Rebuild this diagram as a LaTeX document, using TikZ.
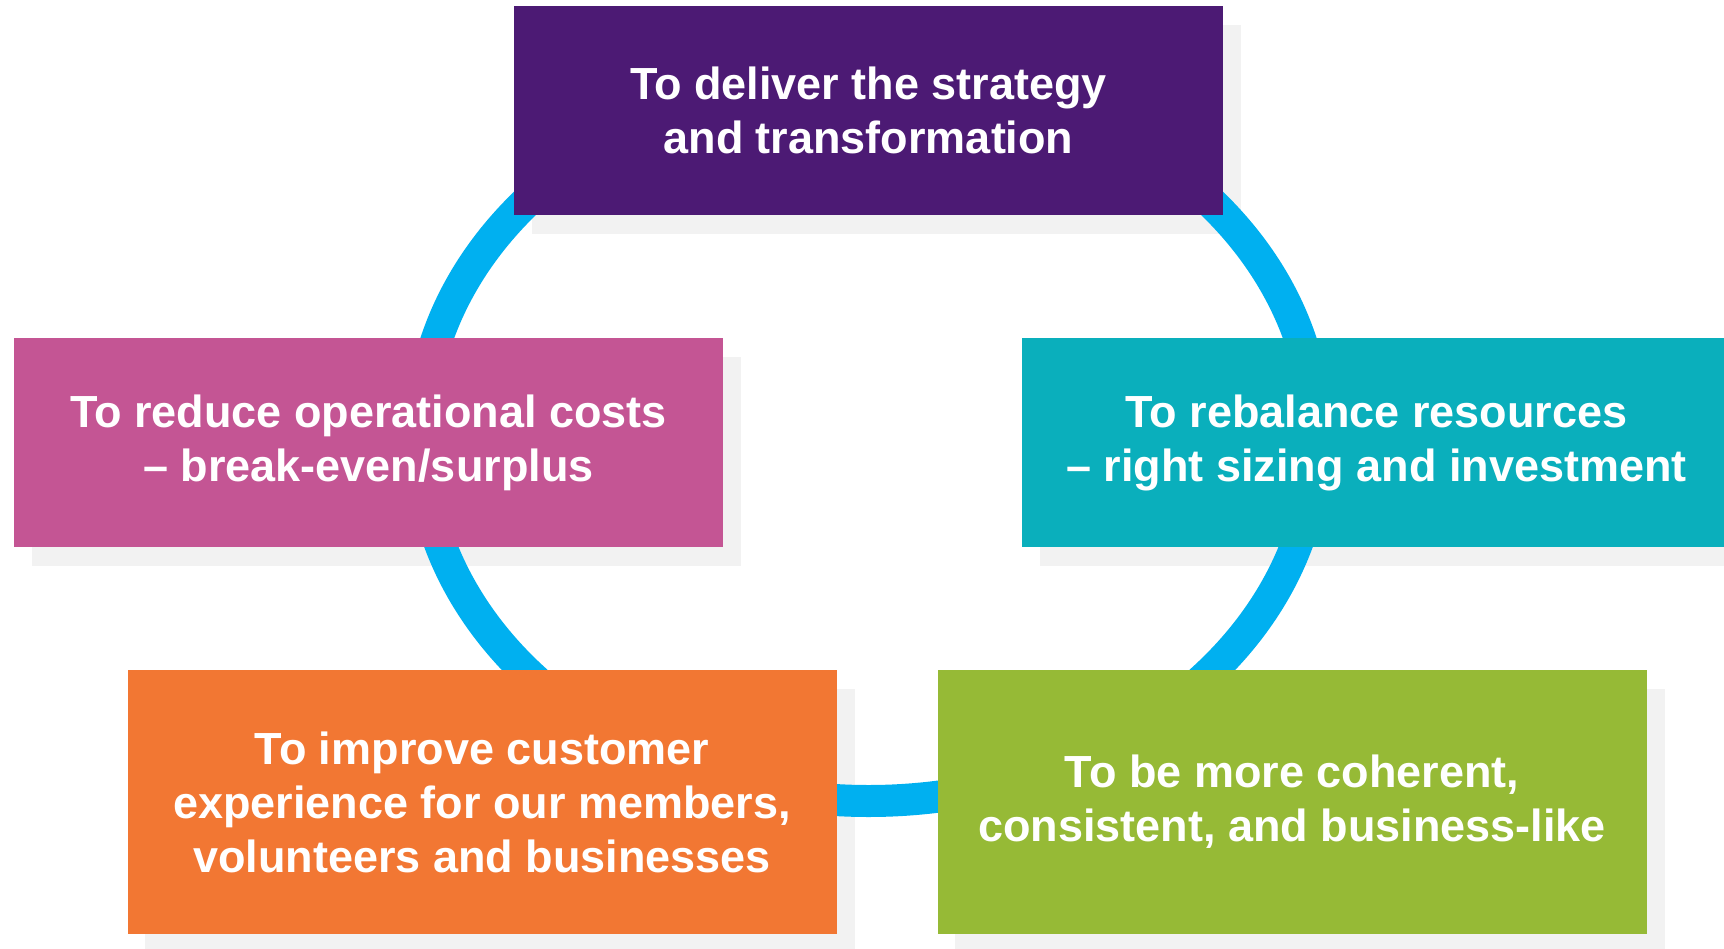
\documentclass[tikz,border=0pt]{standalone}
\usepackage{fontspec}
\setmainfont{Liberation Sans}
\usetikzlibrary{calc}
\definecolor{cpurple}{HTML}{4C1A74}
\definecolor{cpink}{HTML}{C45594}
\definecolor{cteal}{HTML}{0AAFBC}
\definecolor{corange}{HTML}{F27733}
\definecolor{cgreen}{HTML}{96BA36}
\definecolor{cring}{HTML}{00B0F0}
\definecolor{cshadow}{HTML}{F2F2F2}
\pgfdeclarelayer{shadowlayer}
\pgfdeclarelayer{ringlayer}
\pgfsetlayers{shadowlayer,ringlayer,main}
\begin{document}
\begin{tikzpicture}[x=1pt,y=-1pt,
  goalbox/.style={rectangle, inner sep=0pt, minimum width=709pt, text=white,
    font=\bfseries\fontsize{45}{54}\selectfont, align=center},
  shortbox/.style={goalbox, minimum height=209pt},
  tallbox/.style={goalbox, minimum height=264pt},
  boxshadow/.style={fill=cshadow},
  ringline/.style={draw=cring, line width=32pt}]
\useasboundingbox (0,0) rectangle (1724,948);
\node[shortbox, fill=cpurple] (deliver) at (868.5,110.5) {To deliver the strategy\\and transformation};
\node[shortbox, fill=cpink] (reduce) at (368.5,442.5) {To reduce operational costs\\\textendash{} break-even/surplus};
\node[shortbox, fill=cteal] (rebalance) at (1376.5,442.5) {To rebalance resources\\\textendash{} right sizing and investment};
\node[tallbox, fill=corange] (improve) at (482,802) {To improve customer\\experience for our members,\\volunteers and businesses};
\node[tallbox, fill=cgreen] (coherent) at (1292,802) {To be more coherent,\\consistent, and business-like};
\coordinate (ringcentre) at (868.5,437);
\begin{pgfonlayer}{shadowlayer}
\fill[white] (0,0) rectangle (1724,948);
\foreach \n in {deliver,reduce,rebalance,improve,coherent}
  \fill[boxshadow] ([shift={(18pt,-19pt)}]\n.north west) rectangle ([shift={(18pt,-19pt)}]\n.south east);
\end{pgfonlayer}
\begin{pgfonlayer}{ringlayer}
\draw[ringline] (ringcentre) ellipse [x radius=448pt, y radius=364pt];
\end{pgfonlayer}
\end{tikzpicture}
\end{document}
